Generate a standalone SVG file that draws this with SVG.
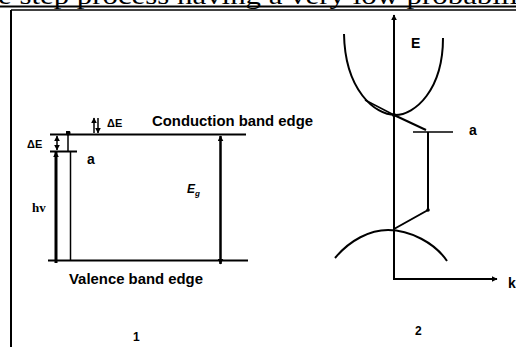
<svg xmlns="http://www.w3.org/2000/svg" width="516" height="347" viewBox="0 0 516 347">
<style>
.ln{stroke:#000;fill:none;stroke-linecap:butt}
.t{font-family:"Liberation Sans",Arial,sans-serif;font-weight:bold;fill:#000}
.s{font-family:"Liberation Serif","Times New Roman",serif;fill:#000}
</style>
<defs>
<marker id="ah" viewBox="0 0 10 10" refX="9" refY="5" markerWidth="6" markerHeight="6" markerUnits="userSpaceOnUse" orient="auto-start-reverse">
<path d="M0,0 L10,5 L0,10 z" fill="#000"/>
</marker>
<marker id="dot" viewBox="0 0 10 10" refX="5" refY="5" markerWidth="5" markerHeight="5" markerUnits="userSpaceOnUse">
<circle cx="5" cy="5" r="5" fill="#000"/>
</marker>
</defs>
<rect width="516" height="347" fill="#fff"/>
<g id="heading">
<text class="s" x="-2" y="4" font-size="26" textLength="520" lengthAdjust="spacingAndGlyphs">e step process having a very low probabili</text>
<line class="ln" x1="0" y1="6.5" x2="516" y2="6.5" stroke-width="2"/>
</g>
<g id="frame">
<line class="ln" x1="11" y1="10" x2="516" y2="10" stroke-width="1.5"/>
<line class="ln" x1="11" y1="10" x2="11" y2="347" stroke-width="2"/>
</g>
<g id="panel1">
<g id="conduction-edge">
<line class="ln" x1="50" y1="134.5" x2="246" y2="134.5" stroke-width="2"/>
<text class="t" x="152" y="126" font-size="14" textLength="161" lengthAdjust="spacingAndGlyphs">Conduction band edge</text>
</g>
<g id="valence-edge">
<line class="ln" x1="48" y1="260.5" x2="248" y2="260.5" stroke-width="2"/>
<text class="t" x="69" y="284" font-size="14" textLength="134" lengthAdjust="spacingAndGlyphs">Valence band edge</text>
</g>
<g id="level-a1">
<line class="ln" x1="50" y1="151.5" x2="77" y2="151.5" stroke-width="2"/>
<text class="t" x="87" y="164" font-size="14">a</text>
</g>
<g id="labels1">
<text class="t" x="27" y="148" font-size="11">ΔE</text>
<text class="t" x="107" y="127" font-size="11">ΔE</text>
<text class="s" x="32" y="212" font-size="13" font-weight="bold">hv</text>
<text class="t" x="187" y="193" font-size="12" font-style="italic">E<tspan font-size="8" dy="3">g</tspan></text>
<text class="t" x="133" y="341" font-size="12">1</text>
</g>
</g>
<g id="panel2">
<g id="conduction-band">
<path class="ln" d="M344,34 C345,90 375,115 395,115 C415,115 443,90 443,38" stroke-width="2"/>
</g>
<g id="valence-band">
<path class="ln" d="M335,258 C350,240 370,230 388,230 C410,230 435,243 447,261" stroke-width="2"/>
</g>
<g id="level-a2">
<line class="ln" x1="413" y1="132" x2="453" y2="132" stroke-width="1.5"/>
<text class="t" x="469" y="135" font-size="14">a</text>
</g>
<g id="labels2">
<text class="t" x="411" y="48" font-size="14">E</text>
<text class="t" x="508" y="288" font-size="14">k</text>
<text class="t" x="415" y="335" font-size="12">2</text>
</g>
</g>
<g id="connectors">
<line class="ln" x1="56" y1="263" x2="56" y2="152" stroke-width="3" marker-end="url(#ah)"/>
<line class="ln" x1="70.5" y1="260" x2="70.5" y2="151" stroke-width="1.5"/>
<line class="ln" x1="68" y1="151" x2="68" y2="133" stroke-width="1.5" marker-end="url(#dot)"/>
<line class="ln" x1="57" y1="136" x2="57" y2="150" stroke-width="1.5" marker-start="url(#ah)" marker-end="url(#ah)"/>
<line class="ln" x1="94" y1="133" x2="94" y2="118" stroke-width="1.5" marker-end="url(#ah)"/>
<line class="ln" x1="98" y1="118" x2="98" y2="133" stroke-width="1.5" marker-end="url(#ah)"/>
<line class="ln" x1="220.5" y1="136" x2="220.5" y2="264" stroke-width="2.5" marker-start="url(#ah)" marker-end="url(#ah)"/>
<line class="ln" x1="394" y1="279" x2="394" y2="15" stroke-width="2" marker-end="url(#ah)"/>
<line class="ln" x1="393" y1="279" x2="497" y2="279" stroke-width="2" marker-end="url(#ah)"/>
<line class="ln" x1="365" y1="100" x2="394" y2="115" stroke-width="1.5"/>
<line class="ln" x1="394" y1="115" x2="426" y2="130" stroke-width="2"/>
<polyline class="ln" points="428,132 428,210 394,229" stroke-width="2"/>
<circle cx="428" cy="210" r="1.8" fill="#000"/>
<circle cx="394" cy="115" r="2" fill="#000"/>
</g>
</svg>
